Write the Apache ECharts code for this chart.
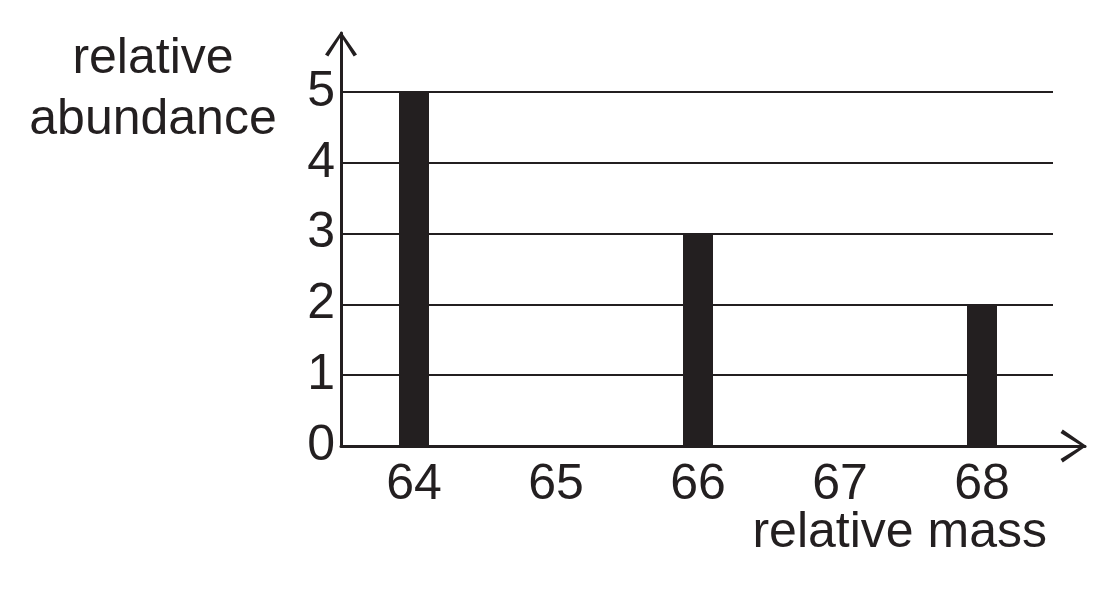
<!DOCTYPE html>
<html>
<head>
<meta charset="utf-8">
<script src="https://cdn.jsdelivr.net/npm/echarts@6/dist/echarts.min.js"></script>
<style>
html,body{margin:0;padding:0;background:#fff;}
#chart{width:1118px;height:597px;}
</style>
</head>
<body>
<div id="chart"></div>
<script>
const categories = ['64', '65', '66', '67', '68'];
const abundance = [5, 0, 3, 0, 2];
const yMin = 0, yMax = 5, yStep = 1;
const yTitle = 'relative\nabundance';
const xTitle = 'relative mass';

const ink = '#231f20';
const FONT = 'Liberation Sans, Arial, Helvetica, sans-serif';
const chevron = 'path://M16,0 L32,23 L28.7,25.2 L16,4.8 L3.3,25.2 L0,23 Z';

const chart = echarts.init(document.getElementById('chart'), null, {renderer: 'canvas'});
chart.setOption({
  backgroundColor: '#fff',
  animation: false,
  grid: [
    {left: 343, right: 65, top: 92, bottom: 151},
    {left: 341, right: 33, top: 33, bottom: 151}
  ],
  xAxis: [
    {
      type: 'category', gridIndex: 0, data: categories,
      axisLine: {show: false}, axisTick: {show: false},
      axisLabel: {fontSize: 50, fontFamily: FONT, color: ink, margin: 14},
      splitLine: {show: false}
    },
    {
      type: 'value', gridIndex: 1, min: 0, max: 1,
      axisLabel: {show: false}, axisTick: {show: false}, splitLine: {show: false},
      axisLine: {show: true, lineStyle: {color: ink, width: 3},
        symbol: ['none', chevron], symbolSize: [33, 27], symbolOffset: [0, -11.5]}
    }
  ],
  yAxis: [
    {
      type: 'value', gridIndex: 0, min: yMin, max: yMax, interval: yStep,
      axisLine: {show: false}, axisTick: {show: false},
      axisLabel: {fontSize: 50, fontFamily: FONT, color: ink, margin: 8},
      splitLine: {show: true, lineStyle: {color: ink, width: 2}}
    },
    {
      type: 'value', gridIndex: 1, min: 0, max: 1,
      axisLabel: {show: false}, axisTick: {show: false}, splitLine: {show: false},
      axisLine: {show: true, lineStyle: {color: ink, width: 3},
        symbol: ['none', chevron], symbolSize: [32, 26], symbolOffset: [0, -11]}
    }
  ],
  series: [{
    type: 'bar', xAxisIndex: 0, yAxisIndex: 0,
    data: abundance, barWidth: 30,
    itemStyle: {color: ink}
  }],
  graphic: [
    {type: 'text', x: 153, y: 29, z: 100,
      style: {text: yTitle, font: '50px ' + FONT, fill: ink, align: 'center', verticalAlign: 'top', lineHeight: 61}},
    {type: 'text', x: 1047, y: 508, z: 100,
      style: {text: xTitle, font: '50px ' + FONT, fill: ink, align: 'right', verticalAlign: 'top', lineHeight: 50}}
  ]
});
</script>
</body>
</html>
